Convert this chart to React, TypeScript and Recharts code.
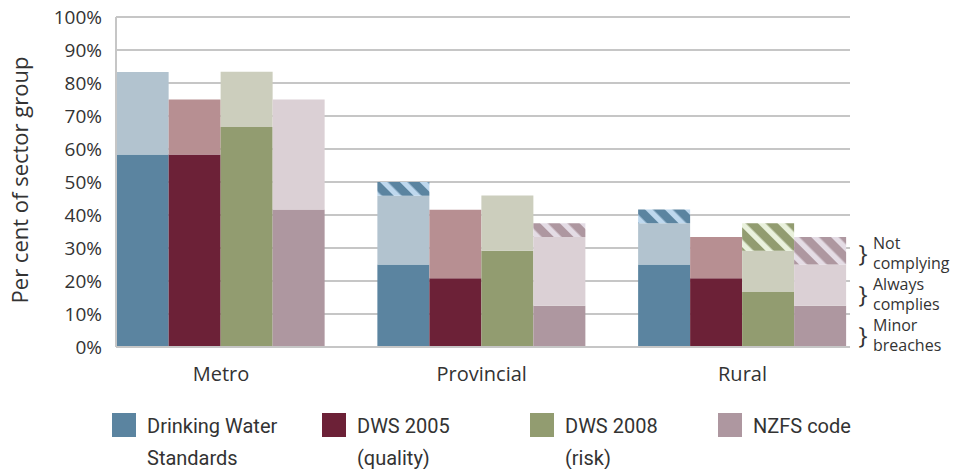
import { Bar, BarChart, CartesianGrid, XAxis, YAxis } from "recharts";

const categories = ["Metro", "Provincial", "Rural"];

// bottom = minor breaches, middle = always complies, top (hatched) = not complying
const dwsMinor = [58.3, 25, 25];
const dwsAlways = [25, 20.8, 12.5];
const dwsNot = [0, 4.2, 4.2];

const q2005Minor = [58.3, 20.8, 20.8];
const q2005Always = [16.7, 20.8, 12.5];
const q2005Not = [0, 0, 0];

const r2008Minor = [66.7, 29.2, 16.7];
const r2008Always = [16.7, 16.7, 12.5];
const r2008Not = [0, 0, 8.3];

const nzfsMinor = [41.7, 12.5, 12.5];
const nzfsAlways = [33.3, 20.8, 12.5];
const nzfsNot = [0, 4.2, 8.3];

const yTicks = [0, 10, 20, 30, 40, 50, 60, 70, 80, 90, 100];

const legendItems = [
  { color: "#5b84a0", lines: ["Drinking Water", "Standards"], left: 112 },
  { color: "#6c2137", lines: ["DWS 2005", "(quality)"], left: 322 },
  { color: "#929c70", lines: ["DWS 2008", "(risk)"], left: 530 },
  { color: "#ae97a0", lines: ["NZFS code"], left: 718 },
];

const notes = [
  { lines: ["Not", "complying"], top: 233 },
  { lines: ["Always", "complies"], top: 274 },
  { lines: ["Minor", "breaches"], top: 315 },
];

const data = categories.map((name, i) => ({
  x: i,
  name,
  dwsMinor: dwsMinor[i],
  dwsAlways: dwsAlways[i],
  dwsNot: dwsNot[i],
  q2005Minor: q2005Minor[i],
  q2005Always: q2005Always[i],
  q2005Not: q2005Not[i],
  r2008Minor: r2008Minor[i],
  r2008Always: r2008Always[i],
  r2008Not: r2008Not[i],
  nzfsMinor: nzfsMinor[i],
  nzfsAlways: nzfsAlways[i],
  nzfsNot: nzfsNot[i],
}));

const grid = "#c6c6c6";
const text = "#333333";
const font = "'Open Sans', sans-serif";

function Hatch({ id, bg, stripe }: { id: string; bg: string; stripe: string }) {
  return (
    <pattern
      id={id}
      patternUnits='userSpaceOnUse'
      width={14}
      height={14}
      patternTransform='rotate(-45)'
    >
      <rect width={14} height={14} fill={bg} />
      <rect width={5.5} height={14} fill={stripe} />
    </pattern>
  );
}

export default function App() {
  return (
    <div
      style={{
        position: "absolute",
        left: 0,
        top: 0,
        width: 958,
        height: 469,
        background: "#fff",
        fontFamily: font,
        color: text,
      }}
    >
      <svg width={0} height={0} style={{ position: "absolute" }}>
        <defs>
          <Hatch id='hatchBlue' bg='#5b84a0' stripe='#bed8ee' />
          <Hatch id='hatchGreen' bg='#929c70' stripe='#e9f1dc' />
          <Hatch id='hatchMauve' bg='#ae97a0' stripe='#e4dce5' />
        </defs>
      </svg>

      <BarChart
        width={958}
        height={469}
        data={data}
        margin={{ top: 17, right: 108, bottom: 82, left: 16 }}
        barGap={0}
        barSize={52}
      >
        <CartesianGrid vertical={false} stroke={grid} strokeWidth={2} />
        <XAxis
          type='number'
          dataKey='x'
          domain={[-0.4027, 2.4123]}
          ticks={[0, 1, 2]}
          tickFormatter={(v: number) => categories[v] ?? ""}
          axisLine={{ stroke: grid, strokeWidth: 2 }}
          tickLine={false}
          tickSize={0}
          tickMargin={20}
          tick={{ fill: text, fontSize: 20, fontFamily: font }}
          height={40}
        />
        <YAxis
          width={100}
          domain={[0, 100]}
          ticks={yTicks}
          tickFormatter={(v: number) => `${v}%`}
          axisLine={{ stroke: grid, strokeWidth: 2 }}
          tickLine={false}
          tickSize={0}
          tickMargin={14}
          tick={{ fill: text, fontSize: 19, fontFamily: font }}
        />
        <Bar dataKey='dwsMinor' stackId='dws' fill='#5b84a0' isAnimationActive={false} />
        <Bar dataKey='dwsAlways' stackId='dws' fill='#b2c3cf' isAnimationActive={false} />
        <Bar dataKey='dwsNot' stackId='dws' fill='url(#hatchBlue)' isAnimationActive={false} />

        <Bar dataKey='q2005Minor' stackId='q2005' fill='#6c2137' isAnimationActive={false} />
        <Bar dataKey='q2005Always' stackId='q2005' fill='#b78f92' isAnimationActive={false} />
        <Bar dataKey='q2005Not' stackId='q2005' fill='#6c2137' isAnimationActive={false} />

        <Bar dataKey='r2008Minor' stackId='r2008' fill='#929c70' isAnimationActive={false} />
        <Bar dataKey='r2008Always' stackId='r2008' fill='#cccebd' isAnimationActive={false} />
        <Bar dataKey='r2008Not' stackId='r2008' fill='url(#hatchGreen)' isAnimationActive={false} />

        <Bar dataKey='nzfsMinor' stackId='nzfs' fill='#ae97a0' isAnimationActive={false} />
        <Bar dataKey='nzfsAlways' stackId='nzfs' fill='#dbd0d5' isAnimationActive={false} />
        <Bar dataKey='nzfsNot' stackId='nzfs' fill='url(#hatchMauve)' isAnimationActive={false} />
      </BarChart>

      <div
        style={{
          position: "absolute",
          left: 19,
          top: 180,
          transform: "translate(-50%, -50%) rotate(-90deg)",
          whiteSpace: "nowrap",
          fontSize: 22,
        }}
      >
        Per cent of sector group
      </div>

      {notes.map((n) => (
        <div
          key={n.lines[0]}
          style={{ position: "absolute", left: 853, top: n.top, display: "flex", alignItems: "center" }}
        >
          <span style={{ fontSize: 24, lineHeight: "38px", width: 20, textAlign: "center" }}>{"}"}</span>
          <span style={{ fontSize: 16, lineHeight: "20px" }}>
            {n.lines[0]}
            <br />
            {n.lines[1]}
          </span>
        </div>
      ))}

      {legendItems.map((item) => (
        <div
          key={item.lines[0]}
          style={{ position: "absolute", left: item.left, top: 413, display: "flex" }}
        >
          <span
            style={{ width: 24, height: 24, background: item.color, display: "inline-block", flexShrink: 0 }}
          />
          <span
            style={{
              marginLeft: 11,
              marginTop: -3,
              fontSize: 20,
              lineHeight: "32px",
              fontFamily: "Roboto, sans-serif",
              whiteSpace: "nowrap",
            }}
          >
            {item.lines.map((l) => (
              <div key={l}>{l}</div>
            ))}
          </span>
        </div>
      ))}
    </div>
  );
}
